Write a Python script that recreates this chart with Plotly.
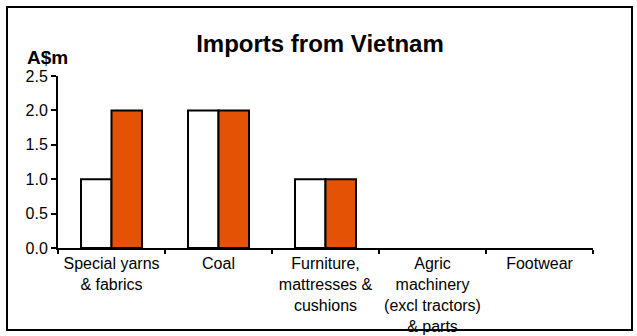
import plotly.graph_objects as go

categories = ["Special yarns<br>& fabrics", "Coal", "Furniture,<br>mattresses &<br>cushions",
              "Agric<br>machinery<br>(excl tractors)<br>& parts", "Footwear"]
series_prev = [1, 2, 1, 0, 0]
series_curr = [2, 2, 1, 0, 0]
y_ticks = [0.0, 0.5, 1.0, 1.5, 2.0, 2.5]

W, H = 637, 336
L, T = 58, 76
R = W - 593
B = H - 248
pw, ph = W - L - R, H - T - B

fig = go.Figure()
fig.add_bar(x=categories, y=series_prev, name="Previous",
            marker=dict(color="white",
                        line=dict(color="black", width=[2 if v else 0 for v in series_prev])))
fig.add_bar(x=categories, y=series_curr, name="Current",
            marker=dict(color="#E35205",
                        line=dict(color="black", width=[2 if v else 0 for v in series_curr])))

def px_x(s):
    return (s - L) / pw

def px_y(s):
    return (H - B - s) / ph

fig.update_layout(
    width=W, height=H,
    margin=dict(l=L, r=R, t=T, b=B),
    paper_bgcolor="white", plot_bgcolor="white",
    font=dict(family="Liberation Sans, Arial, sans-serif", size=16, color="black"),
    showlegend=False,
    barmode="group", bargap=0.43, bargroupgap=0,
    title=dict(text="<b>Imports from Vietnam</b>", x=320 / W, xanchor="center",
               y=1 - 44 / H, yanchor="middle", font=dict(size=24)),
    xaxis=dict(showline=True, linecolor="black", linewidth=2, ticks="outside",
               tickson="boundaries", ticklen=4, tickwidth=2, tickcolor="black",
               showgrid=False, tickfont=dict(size=16), tickangle=0,
               automargin=False, layer="above traces"),
    yaxis=dict(range=[0, 2.5], tickvals=y_ticks, tickformat=".1f",
               showline=True, linecolor="black", linewidth=2, ticks="outside",
               ticklen=5, tickwidth=2, tickcolor="black", showgrid=False,
               zeroline=False, tickfont=dict(size=16), automargin=False,
               layer="above traces"),
    annotations=[dict(text="<b>A$m</b>", xref="paper", yref="paper",
                      x=px_x(47), y=px_y(57), xanchor="center", yanchor="middle",
                      showarrow=False, font=dict(size=19))],
    shapes=[dict(type="rect", xref="paper", yref="paper", layer="above",
                 x0=px_x(7), x1=px_x(632), y0=px_y(330), y1=px_y(7),
                 line=dict(color="black", width=2), fillcolor="rgba(0,0,0,0)")],
)

fig.write_html("out.html", config={"displayModeBar": False},
               post_script="document.body.style.margin='0';"
                           "document.body.style.overflow='hidden';"
                           "document.documentElement.style.overflow='hidden';")
